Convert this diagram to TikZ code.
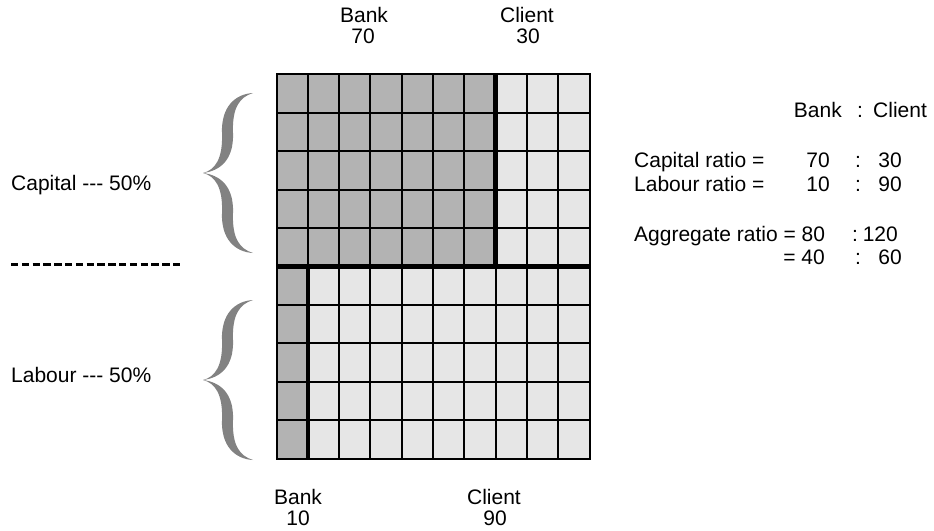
\documentclass[tikz,border=0pt]{standalone}
\usepackage{fontspec}
\setmainfont{Liberation Sans}
\definecolor{bankgray}{HTML}{B3B3B3}
\definecolor{clientgray}{HTML}{E6E6E6}
\definecolor{bracegray}{HTML}{828282}

\begin{document}
\begin{tikzpicture}[x=1pt,y=-1pt,
    label/.style={inner sep=0pt,font=\fontsize{21}{24}\selectfont},
    thinline/.style={line width=2pt},
    thickline/.style={line width=4.5pt},
    curlybrace/.pic={
        \fill[bracegray] (50,0) .. controls (32,1) and (18,14) .. (19,40)
            .. controls (20,66) and (12,77) .. (0,80)
            .. controls (12,83) and (20,94) .. (19,120)
            .. controls (18,146) and (32,159) .. (50,160)
            .. controls (37,156) and (29,146) .. (30,120)
            .. controls (31,92) and (16,82) .. (0,80)
            .. controls (16,78) and (31,68) .. (30,40)
            .. controls (29,14) and (37,4) .. (50,0) -- cycle;
    }]
    \useasboundingbox (0,0) rectangle (934,530);

    % the 10 x 10 grid
    \begin{scope}[shift={(276.5,74.3)},x=31.3pt,y=-38.44pt]
        \fill[bankgray] (0,0) rectangle (7,5);
        \fill[clientgray] (7,0) rectangle (10,5);
        \fill[bankgray] (0,5) rectangle (1,10);
        \fill[clientgray] (1,5) rectangle (10,10);
        \foreach \i in {1,...,9} {
            \draw[thinline] (\i,0) -- (\i,10);
            \draw[thinline] (0,\i) -- (10,\i);
        }
        \draw[thickline] (7,0) -- (7,5);
        \draw[thickline] (0,5) -- (10.05,5);
        \draw[thickline] (1,5) -- (1,10);
        \draw[thinline] (0,0) rectangle (10,10);
    \end{scope}

    % shares above and below
    \node[label,anchor=base] (capbank) at (364,22) {Bank};
    \node[label,anchor=base] (capbankval) at (363,43) {70};
    \node[label,anchor=base] (capclient) at (527,22) {Client};
    \node[label,anchor=base] (capclientval) at (528,43) {30};
    \node[label,anchor=base] (labbank) at (298,504) {Bank};
    \node[label,anchor=base] (labbankval) at (298,525) {10};
    \node[label,anchor=base] (labclient) at (494,504) {Client};
    \node[label,anchor=base] (labclientval) at (495,525) {90};

    % the braces and the left side
    \pic at (203,93) {curlybrace};
    \pic at (203,300) {curlybrace};
    \node[label,anchor=base west] (capital) at (11,190) {Capital -{}-{}- 50\%};
    \node[label,anchor=base west] (labour) at (11,382) {Labour -{}-{}- 50\%};
    \draw[line width=3pt,dash pattern=on 7.3pt off 3.5pt] (11,264) -- (180.3,264);

    % the ratios
    \node[label,anchor=base east] (headbank) at (842,117) {Bank};
    \node[label,anchor=base] (headcolon) at (860,117) {:};
    \node[label,anchor=base west] (headclient) at (873,117) {Client};

    \node[label,anchor=base west] (capratio) at (634,167) {Capital ratio =};
    \node[label,anchor=base east] (capratiobank) at (830,167) {70};
    \node[label,anchor=base] (capratiocolon) at (858,167) {:};
    \node[label,anchor=base east] (capratioclient) at (902,167) {30};

    \node[label,anchor=base west] (labratio) at (634,191) {Labour ratio =};
    \node[label,anchor=base east] (labratiobank) at (830,191) {10};
    \node[label,anchor=base] (labratiocolon) at (858,191) {:};
    \node[label,anchor=base east] (labratioclient) at (902,191) {90};

    \node[label,anchor=base west] (aggratio) at (634,241) {Aggregate ratio = 80};
    \node[label,anchor=base] (aggratiocolon) at (855,241) {:};
    \node[label,anchor=base east] (aggratioclient) at (898,241) {120};

    \node[label,anchor=base east] (aggsimple) at (825,264) {= 40};
    \node[label,anchor=base] (aggsimplecolon) at (858,264) {:};
    \node[label,anchor=base east] (aggsimpleclient) at (902,264) {60};
\end{tikzpicture}
\end{document}
